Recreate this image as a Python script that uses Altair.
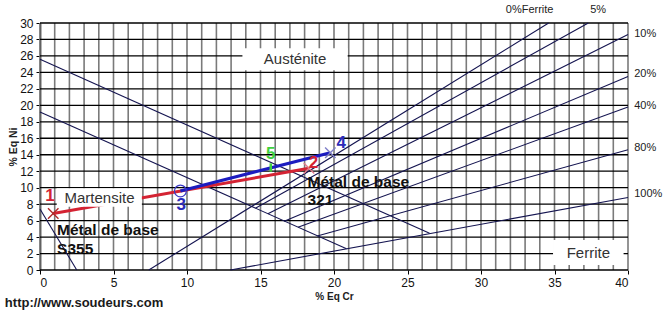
import altair as alt
import pandas as pd

# ---------------- data ----------------
# Schaeffler diagram constitution lines (start / end in %Eq Cr, %Eq Ni)
line_names = ["0%", "5%", "10%", "20%", "40%", "80%", "100%", "A1", "A2", "M"]
line_cr0 = [7.4, 14.65, 15.5, 16.61, 17.55, 18.86, 12.95, 0.0, 0.0, 0.0]
line_ni0 = [0.0, 7.5, 6.82, 5.93, 5.18, 4.14, 0.0, 25.6, 19.2, 7.4]
line_cr1 = [34.6, 37.3, 40.0, 40.0, 40.0, 40.0, 40.0, 26.5, 20.85, 2.5]
line_ni1 = [30.0, 30.0, 28.6, 23.5, 19.8, 14.6, 8.8, 4.45, 2.57, 0.0]

# Welding points
point_ids = ["1", "2", "3", "4", "5"]
point_cr = [0.9, 18.3, 9.55, 19.75, 15.7]
point_ni = [6.85, 12.35, 9.6, 14.25, 12.45]

# Axis ticks
cr_ticks = [0, 5, 10, 15, 20, 25, 30, 35, 40]
ni_ticks = list(range(0, 31, 2))
cr_grid = list(range(0, 41))

# Ferrite percentage labels
ferrite_top_text = ["0%Ferrite", "5%"]
ferrite_right_text = ["10%", "20%", "40%", "80%", "100%"]

# ---------------- annotation placement ----------------
ferrite_top_cr = [33.31, 37.97]
ferrite_top_ni = [31.55, 31.55]
ferrite_right_cr = [40.42] * 5
ferrite_right_ni = [28.64, 23.79, 19.9, 14.77, 9.19]

label_cr = [0.68, 18.6, 9.6, 20.5, 15.7]
label_ni = [8.98, 13.0, 7.9, 15.4, 14.1]
label_colors = ["#d42333", "#d42333", "#2a2ab8", "#2a2ab8", "#3fd13f"]

region_text = ["Austénite", "Martensite", "Ferrite"]
region_cr = [17.35, 4.05, 37.3]
region_ni = [25.6, 8.8, 2.06]
box_cr0 = [13.77, 1.14, 34.9]
box_cr1 = [20.93, 6.93, 39.7]
box_ni0 = [24.27, 7.69, 0.6]
box_ni1 = [26.94, 9.92, 3.64]

metal_text = ["Métal de base", "S355", "Métal de base", "321"]
metal_cr = [1.16, 1.16, 18.2, 18.2]
metal_ni = [4.85, 2.55, 10.7, 8.5]

FONT = "Liberation Sans"
xs = alt.Scale(domain=[0, 40], nice=False, zero=False)
ys = alt.Scale(domain=[0, 30], nice=False, zero=False)

XAX = alt.Axis(
    values=cr_ticks, grid=False, domain=False, ticks=True, tickSize=4,
    tickColor="#000000", labelFont=FONT, labelFontSize=12, labelColor="#111111",
    labelPadding=3, title="% Eq Cr", titleFont=FONT, titleFontSize=10,
    titleFontWeight="bold", titleColor="#222222", titlePadding=3)
YAX = alt.Axis(
    values=ni_ticks, grid=False, domain=True, domainColor="#000000", domainWidth=1.6,
    ticks=True, tickSize=4, tickColor="#000000", labelFont=FONT, labelFontSize=12,
    labelColor="#111111", labelPadding=3, title="% Eq Ni", titleFont=FONT,
    titleFontSize=10.5, titleFontWeight="bold", titleColor="#222222", titlePadding=1)


def X(field):
    return alt.X(field, scale=xs, axis=XAX)


def Y(field):
    return alt.Y(field, scale=ys, axis=YAX)


# ---------------- layers ----------------
vgrid = alt.Chart(pd.DataFrame({"cr": cr_grid})).mark_rule(
    color="#7a7a7a", strokeWidth=1.6
).encode(x=X("cr:Q"))

hgrid = alt.Chart(pd.DataFrame({"ni": ni_ticks})).mark_rule(
    color="#000000", strokeWidth=1.3
).encode(y=Y("ni:Q"))

lines_df = pd.DataFrame({"name": line_names, "cr0": line_cr0, "ni0": line_ni0,
                         "cr1": line_cr1, "ni1": line_ni1})
diagram = alt.Chart(lines_df).mark_rule(color="#141450", strokeWidth=1.1).encode(
    x=X("cr0:Q"), y=Y("ni0:Q"), x2="cr1:Q", y2="ni1:Q",
)

pts = pd.DataFrame({"id": point_ids, "cr": point_cr, "ni": point_ni})
seg_df = pd.DataFrame({
    "seg": ["red", "blue"],
    "cr0": [point_cr[0], point_cr[2]], "ni0": [point_ni[0], point_ni[2]],
    "cr1": [point_cr[1], point_cr[3]], "ni1": [point_ni[1], point_ni[3]],
})
red_line = alt.Chart(seg_df[seg_df.seg == "red"]).mark_rule(
    color="#d42333", strokeWidth=3).encode(
    x=X("cr0:Q"), y=Y("ni0:Q"), x2="cr1:Q", y2="ni1:Q")
blue_line = alt.Chart(seg_df[seg_df.seg == "blue"]).mark_rule(
    color="#1c1cc0", strokeWidth=3).encode(
    x=X("cr0:Q"), y=Y("ni0:Q"), x2="cr1:Q", y2="ni1:Q")

boxes_df = pd.DataFrame({"cr0": box_cr0, "cr1": box_cr1, "ni0": box_ni0, "ni1": box_ni1})
boxes = alt.Chart(boxes_df).mark_rect(color="#ffffff").encode(
    x=X("cr0:Q"), x2="cr1:Q", y=Y("ni0:Q"), y2="ni1:Q")

XPATH = "M-1,-1L1,1M-1,1L1,-1"
cross_df = pts.iloc[[0, 1, 3]].assign(col=["#b02a2a", "#e07a8a", "#7f7fc8"])
crosses = alt.Chart(cross_df).mark_point(shape=XPATH, size=110, filled=False,
                                          strokeWidth=1.4, opacity=1).encode(
    x=X("cr:Q"), y=Y("ni:Q"), color=alt.Color("col:N", scale=None))

circle = alt.Chart(pts.iloc[[2]]).mark_point(shape="circle", size=140, filled=False,
                                             color="#3a3ac8", strokeWidth=1.2, opacity=1).encode(
    x=X("cr:Q"), y=Y("ni:Q"))

green_mark = alt.Chart(pts.iloc[[4]]).mark_point(shape="M0,-1L0,1", size=70, filled=False,
                                                 color="#3fd13f", strokeWidth=2.5, opacity=1).encode(
    x=X("cr:Q"), y=Y("ni:Q"))

lab_df = pd.DataFrame({"t": point_ids, "cr": label_cr, "ni": label_ni, "col": label_colors})
labels = alt.Chart(lab_df).mark_text(font=FONT, fontSize=17, fontWeight="bold",
                                      baseline="middle", align="center").encode(
    x=X("cr:Q"), y=Y("ni:Q"), text="t:N", color=alt.Color("col:N", scale=None))

region_df = pd.DataFrame({"t": region_text, "cr": region_cr, "ni": region_ni})
regions = alt.Chart(region_df).mark_text(font=FONT, fontSize=15, color="#333333",
                                          baseline="middle", align="center").encode(
    x=X("cr:Q"), y=Y("ni:Q"), text="t:N")

metal_df = pd.DataFrame({"t": metal_text, "cr": metal_cr, "ni": metal_ni})
metals = alt.Chart(metal_df).mark_text(font=FONT, fontSize=15.5, fontWeight="bold",
                                        color="#111111", baseline="middle", align="left").encode(
    x=X("cr:Q"), y=Y("ni:Q"), text="t:N")

ftop_df = pd.DataFrame({"t": ferrite_top_text, "cr": ferrite_top_cr, "ni": ferrite_top_ni})
ftop = alt.Chart(ftop_df).mark_text(font=FONT, fontSize=11, color="#222222",
                                     baseline="middle", align="center").encode(
    x=X("cr:Q"), y=Y("ni:Q"), text="t:N")

fright_df = pd.DataFrame({"t": ferrite_right_text, "cr": ferrite_right_cr, "ni": ferrite_right_ni})
fright = alt.Chart(fright_df).mark_text(font=FONT, fontSize=11, color="#222222",
                                         baseline="middle", align="left").encode(
    x=X("cr:Q"), y=Y("ni:Q"), text="t:N")

url_df = pd.DataFrame({"t": ["http://www.soudeurs.com"], "cr": [-2.39], "ni": [-4.0]})
url = alt.Chart(url_df).mark_text(font=FONT, fontSize=13, fontWeight="bold", color="#1a1a1a",
                                   baseline="middle", align="left").encode(
    x=X("cr:Q"), y=Y("ni:Q"), text="t:N")

chart = alt.layer(
    vgrid, hgrid, diagram, red_line, boxes, blue_line, crosses, circle, green_mark,
    labels, regions, metals, ftop, fright, url
).properties(
    width=588, height=247,
    autosize=alt.AutoSizeParams(type="none"),
    padding={"left": 40, "top": 23, "right": 40, "bottom": 47},
    background="#ffffff",
).configure_view(stroke=None)

chart.save("out.html", embed_options={"renderer": "svg", "actions": False})
